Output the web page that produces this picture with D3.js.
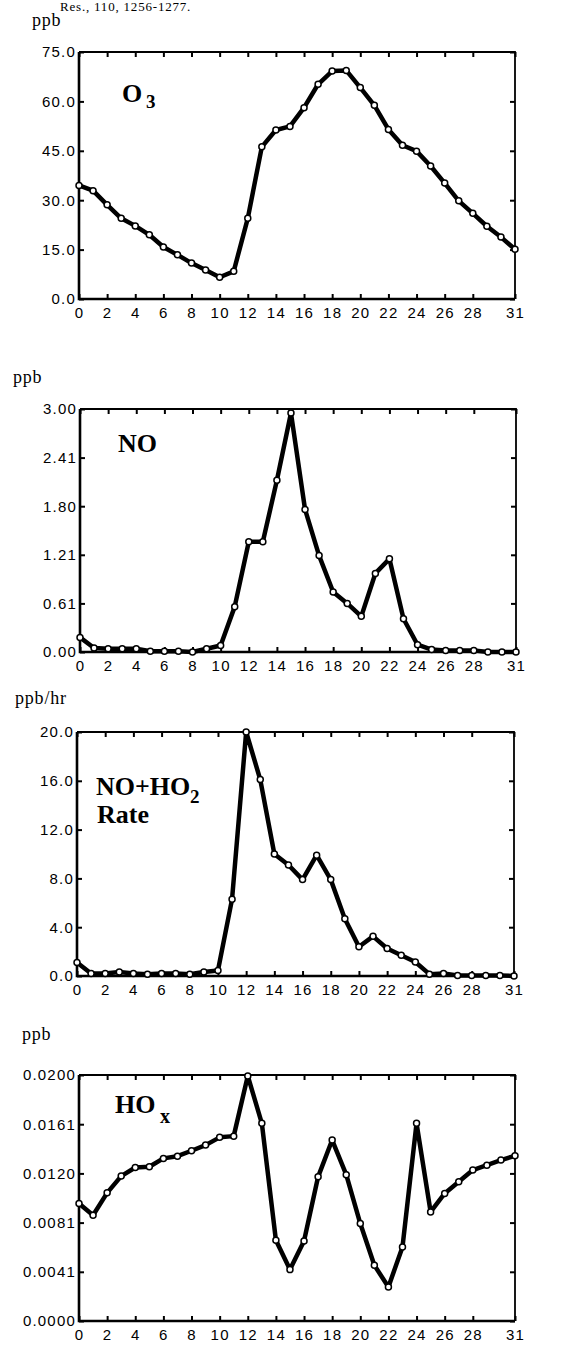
<!DOCTYPE html>
<html>
<head>
<meta charset="utf-8">
<script src="https://cdn.jsdelivr.net/npm/d3@7"></script>
<style>
  html, body { margin: 0; padding: 0; background: #fff; }
  svg { display: block; }
  .tick text { font-family: "Liberation Sans", Arial, sans-serif; font-size: 15px; letter-spacing: 1.2px; fill: #000; }
  .unit { font-family: "Liberation Serif", "Times New Roman", serif; font-size: 18px; letter-spacing: 0.8px; }
  .plabel { font-family: "Liberation Serif", "Times New Roman", serif; font-weight: bold; font-size: 26px; }
</style>
</head>
<body>
<svg id="chart" width="588" height="1346"></svg>
<script>
// ---- data ----
const hours = [0,1,2,3,4,5,6,7,8,9,10,11,12,13,14,15,16,17,18,19,20,21,22,23,24,25,26,27,28,29,30,31];
const xTickValues = [0,2,4,6,8,10,12,14,16,18,20,22,24,26,28,31];
const xTickLabels = ["0","2","4","6","8","10","12","14","16","18","20","22","24","26","28","31"];

const o3Values = [34.5,32.9,28.6,24.5,22.2,19.5,15.8,13.4,10.9,8.8,6.6,8.4,24.5,46.2,51.3,52.4,58.1,65.2,69.2,69.4,64.2,58.8,51.5,46.7,44.9,40.4,35.2,29.8,26.0,22.1,18.8,15.1];
const o3TickValues = [0,15,30,45,60,75];
const o3TickLabels = ["0.0","15.0","30.0","45.0","60.0","75.0"];

const noValues = [0.18,0.05,0.04,0.04,0.04,0.01,0.01,0.01,0.0,0.04,0.08,0.56,1.36,1.36,2.12,2.95,1.76,1.19,0.74,0.60,0.44,0.97,1.15,0.41,0.09,0.03,0.02,0.02,0.02,0.0,0.0,0.0];
const noTickValues = [0,0.6,1.2,1.8,2.4,3.0];
const noTickLabels = ["0.00","0.61","1.21","1.80","2.41","3.00"];

const rateValues = [1.1,0.2,0.2,0.33,0.2,0.15,0.2,0.2,0.15,0.33,0.45,6.3,20.0,16.1,10.0,9.1,7.9,9.9,7.9,4.7,2.4,3.25,2.25,1.7,1.15,0.15,0.2,0.05,0.05,0.05,0.05,0.0];
const rateTickValues = [0,4,8,12,16,20];
const rateTickLabels = ["0.0","4.0","8.0","12.0","16.0","20.0"];

const hoxValues = [0.00955,0.0086,0.01042,0.01178,0.01248,0.01254,0.01322,0.0134,0.01384,0.0143,0.01493,0.01503,0.01992,0.01607,0.00657,0.00418,0.00651,0.01172,0.01471,0.0119,0.00792,0.00453,0.00277,0.00602,0.01607,0.00887,0.01037,0.01132,0.01227,0.01267,0.01308,0.01343];
const hoxTickValues = [0,0.004,0.008,0.012,0.016,0.02];
const hoxTickLabels = ["0.0000","0.0041","0.0081","0.0120","0.0161","0.0200"];

// ---- layout ----
const svg = d3.select("#chart");
svg.append("rect").attr("width",588).attr("height",1346).attr("fill","#fff");

svg.append("text").attr("class","unit").attr("x",60).attr("y",11)
  .style("font-size","13px").text("Res., 110, 1256-1277.");

const panels = [
  {values:o3Values, tv:o3TickValues, tl:o3TickLabels, dom:[0,75], box:[79,515,52,299],
   unit:"ppb", ux:32, uy:26, label:[{t:"O",x:122,y:102,s:26},{t:"3",x:146,y:108,s:19}]},
  {values:noValues, tv:noTickValues, tl:noTickLabels, dom:[0,3], box:[80,516,409,652],
   unit:"ppb", ux:13, uy:383, label:[{t:"NO",x:118,y:452,s:26}]},
  {values:rateValues, tv:rateTickValues, tl:rateTickLabels, dom:[0,20], box:[77,514,732,976],
   unit:"ppb/hr", ux:15, uy:704, label:[{t:"NO+HO",x:96,y:795,s:26},{t:"2",x:190,y:803,s:19},{t:"Rate",x:97,y:823,s:26}]},
  {values:hoxValues, tv:hoxTickValues, tl:hoxTickLabels, dom:[0,0.02], box:[79,515,1075,1321],
   unit:"ppb", ux:22, uy:1040, label:[{t:"HO",x:115,y:1113,s:26},{t:"x",x:160,y:1123,s:20}]}
];

panels.forEach(p => {
  const [x0,x1,yT,yB] = p.box;
  const x = d3.scaleLinear().domain([0,31]).range([x0,x1]);
  const y = d3.scaleLinear().domain(p.dom).range([yB,yT]);
  const g = svg.append("g");

  // inward ticks on all four sides
  const ax = [
    {a:d3.axisBottom(x).tickValues(xTickValues).tickFormat((d,i)=>xTickLabels[i]).tickSizeInner(-5).tickSizeOuter(0).tickPadding(8), t:`translate(0,${yB})`},
    {a:d3.axisTop(x).tickValues(xTickValues).tickFormat("").tickSizeInner(-5).tickSizeOuter(0), t:`translate(0,${yT})`},
    {a:d3.axisLeft(y).tickValues(p.tv).tickFormat((d,i)=>p.tl[i]).tickSizeInner(-5).tickSizeOuter(0).tickPadding(3), t:`translate(${x0},0)`},
    {a:d3.axisRight(y).tickValues(p.tv).tickFormat("").tickSizeInner(-5).tickSizeOuter(0), t:`translate(${x1},0)`}
  ];
  ax.forEach(o => {
    const ag = g.append("g").attr("transform",o.t).call(o.a);
    ag.select(".domain").remove();
    ag.selectAll(".tick line").attr("stroke","#000").attr("stroke-width",2);
    ag.selectAll(".tick text").attr("font-family",null).attr("font-size",null);
  });

  // frame
  g.append("path").attr("d",`M${x0},${yT}H${x1}V${yB}`).attr("fill","none").attr("stroke","#000").attr("stroke-width",1.8);
  g.append("path").attr("d",`M${x0},${yT}V${yB}H${x1}`).attr("fill","none").attr("stroke","#000").attr("stroke-width",2.6);

  // line
  const line = d3.line().x((d,i)=>x(hours[i])).y(d=>y(d));
  g.append("path").datum(p.values).attr("d",line)
    .attr("fill","none").attr("stroke","#000").attr("stroke-width",4.5).attr("stroke-linejoin","round");

  // markers
  g.selectAll("circle.pt").data(p.values).join("circle").attr("class","pt")
    .attr("cx",(d,i)=>x(hours[i])).attr("cy",d=>y(d)).attr("r",3)
    .attr("fill","#fff").attr("stroke","#000").attr("stroke-width",1.5);

  // unit label
  svg.append("text").attr("class","unit").attr("x",p.ux).attr("y",p.uy).text(p.unit);

  // panel label
  p.label.forEach(l => {
    svg.append("text").attr("class","plabel").attr("x",l.x).attr("y",l.y)
      .style("font-size",l.s+"px").text(l.t);
  });
});
</script>
</body>
</html>
